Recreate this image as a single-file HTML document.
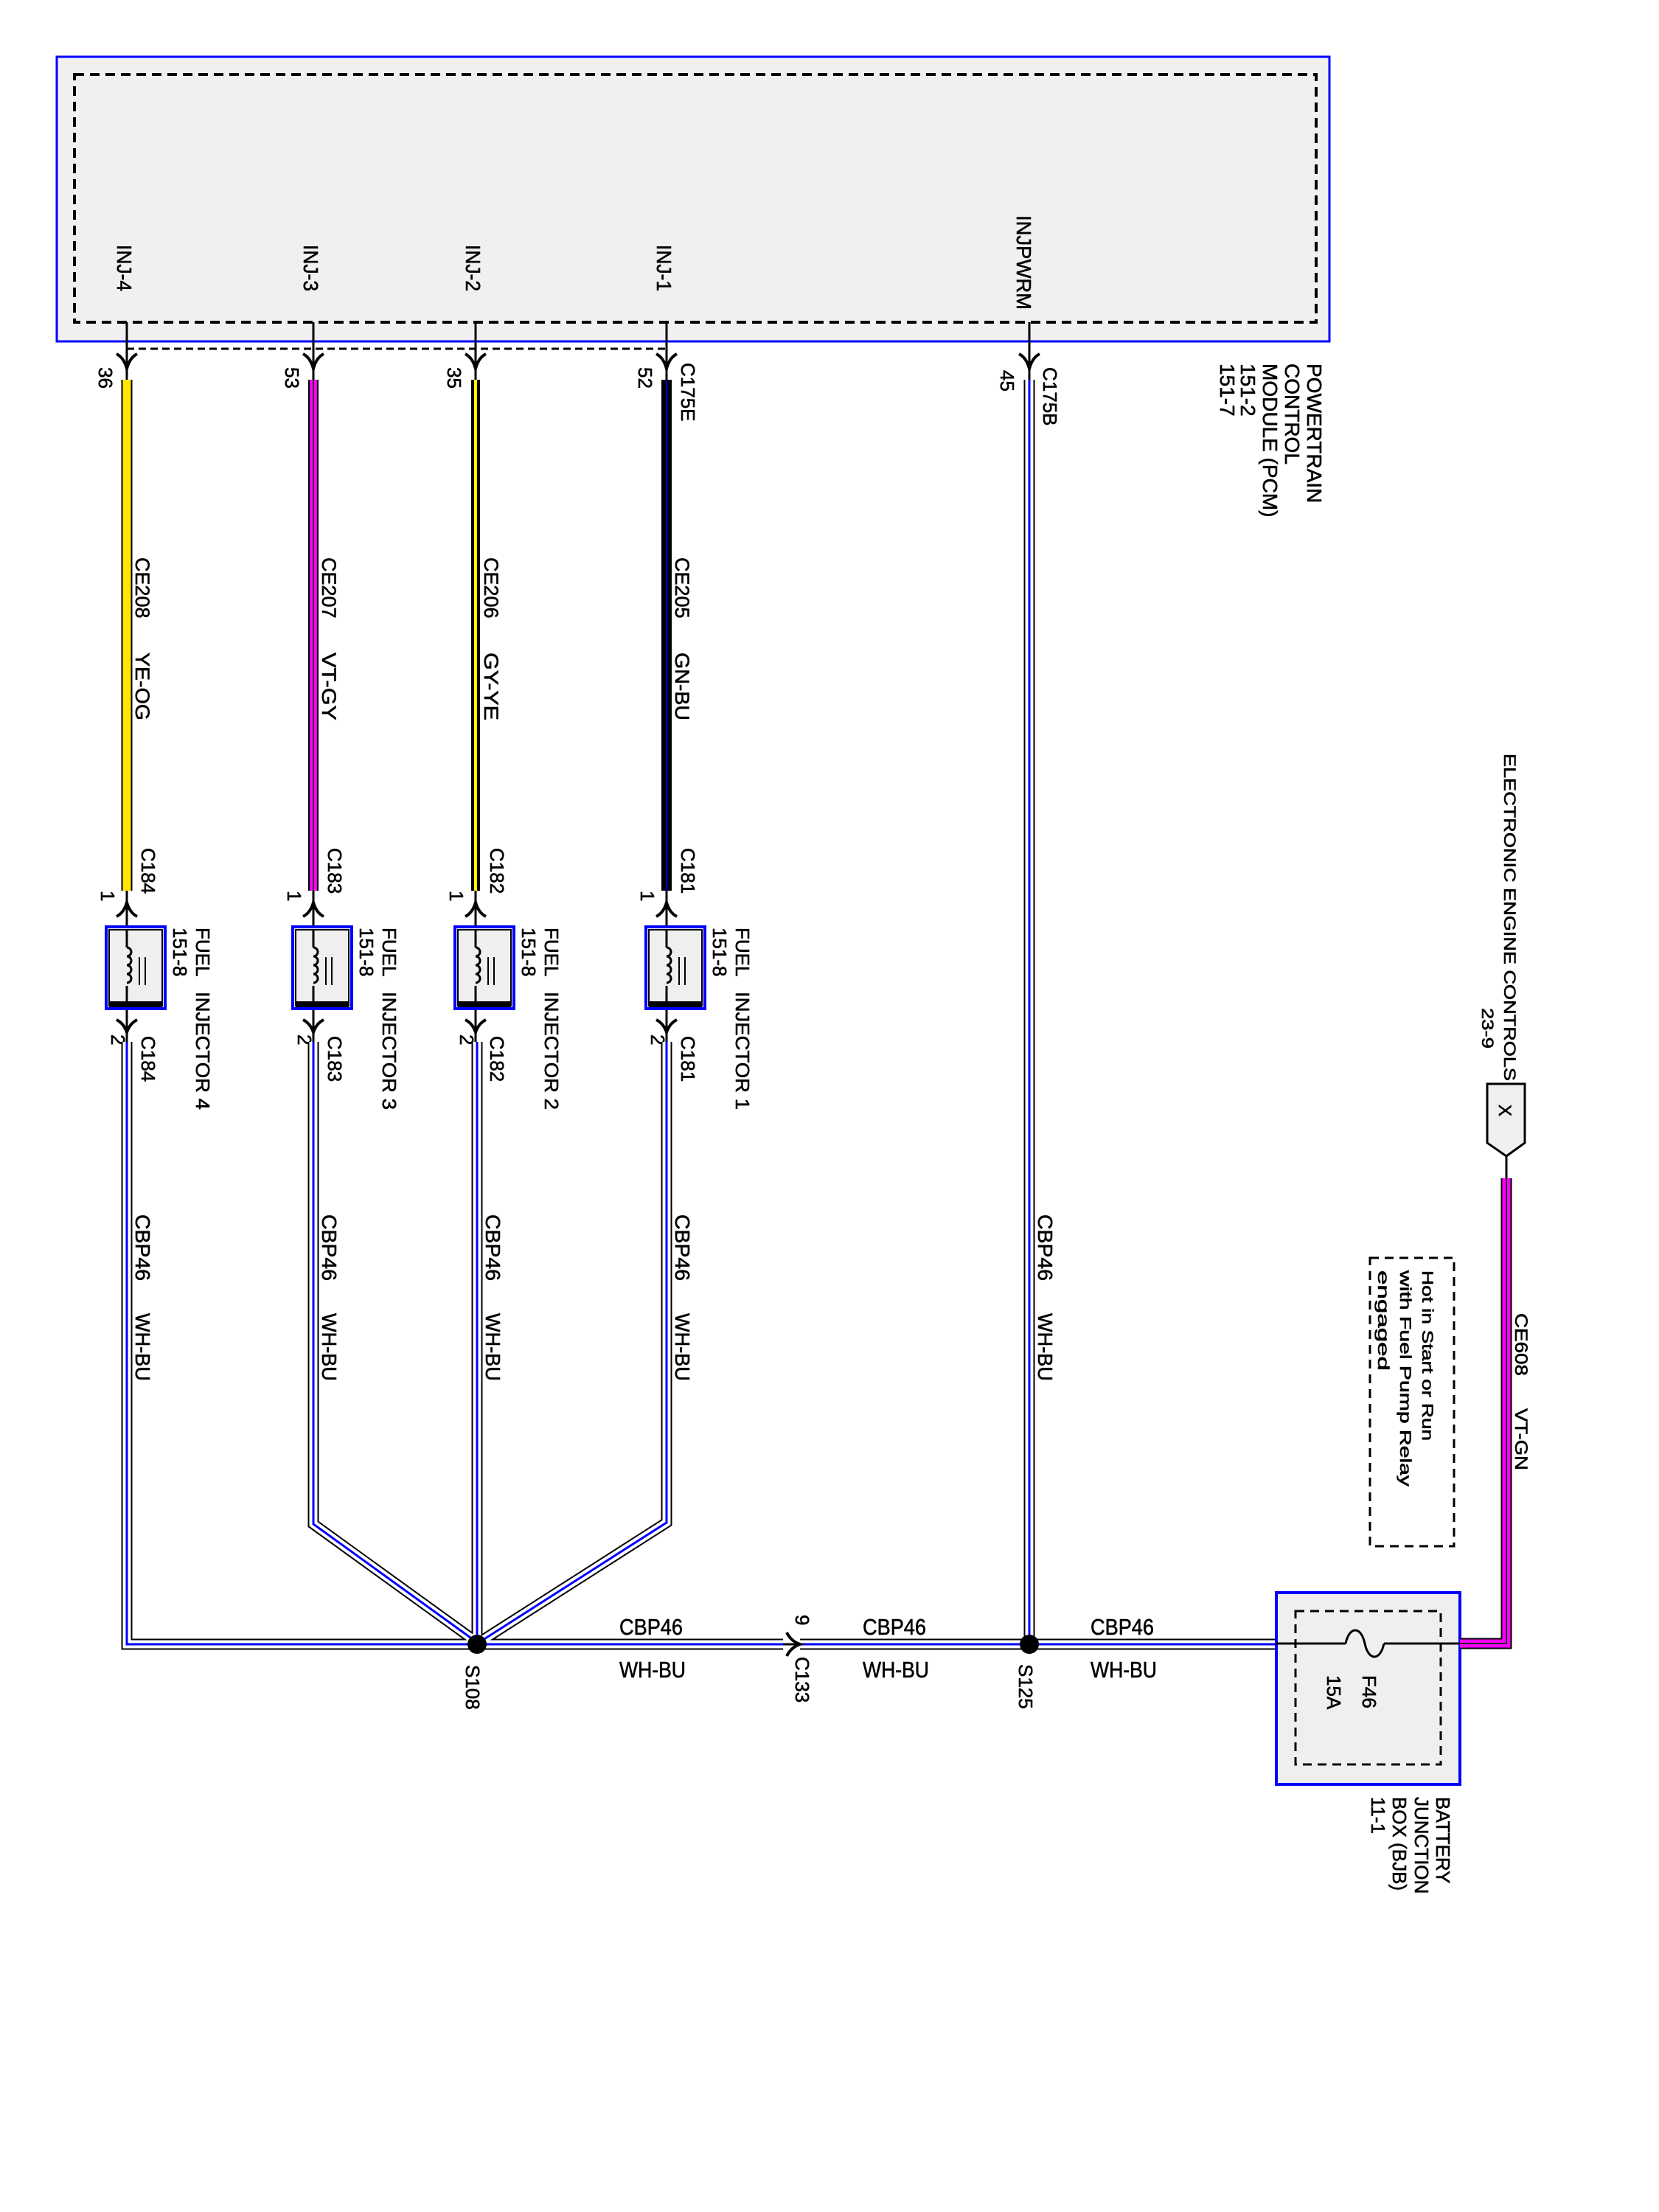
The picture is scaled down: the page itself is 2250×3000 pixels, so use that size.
<!DOCTYPE html>
<html><head><meta charset="utf-8"><style>
html,body{margin:0;padding:0;background:#fff}
svg{display:block}
text{font-family:"Liberation Sans",Arial,sans-serif;fill:#000;stroke:#000;stroke-width:0.6}
</style></head><body>
<svg width="2250" height="3000" viewBox="0 0 2250 3000" xmlns="http://www.w3.org/2000/svg">
<defs>
<g id="arrDown"><path d="M-14,480 Q-4,485 0,500 Q4,485 14,480" fill="none" stroke="#000" stroke-width="4"/></g>
</defs>
<!-- PCM -->
<rect x="77" y="77" width="1726" height="386" fill="#f0f0f0" stroke="#0000ff" stroke-width="3"/>
<rect x="101" y="101" width="1684" height="336" fill="none" stroke="#000" stroke-width="4" stroke-dasharray="13,8"/>
<line x1="172" y1="473" x2="904" y2="473" stroke="#000" stroke-width="3" stroke-dasharray="10,6"/>

<g font-size="28">
<text transform="translate(159,332) rotate(90)" textLength="63" lengthAdjust="spacingAndGlyphs">INJ-4</text>
<text transform="translate(412,332) rotate(90)" textLength="63" lengthAdjust="spacingAndGlyphs">INJ-3</text>
<text transform="translate(632,332) rotate(90)" textLength="63" lengthAdjust="spacingAndGlyphs">INJ-2</text>
<text transform="translate(891,332) rotate(90)" textLength="63" lengthAdjust="spacingAndGlyphs">INJ-1</text>
<text transform="translate(1379,292) rotate(90)" textLength="128" lengthAdjust="spacingAndGlyphs">INJPWRM</text>
</g>

<g font-size="28">
<text transform="translate(1773,493) rotate(90)">POWERTRAIN</text>
<text transform="translate(1743,493) rotate(90)">CONTROL</text>
<text transform="translate(1713,493) rotate(90)">MODULE (PCM)</text>
<text transform="translate(1683,493) rotate(90)">151-2</text>
<text transform="translate(1655,493) rotate(90)">151-7</text>
</g>

<g stroke="#000" stroke-width="3">
<line x1="172" y1="437" x2="172" y2="515"/>
<line x1="425" y1="437" x2="425" y2="515"/>
<line x1="645" y1="437" x2="645" y2="515"/>
<line x1="904" y1="437" x2="904" y2="515"/>
<line x1="1396" y1="437" x2="1396" y2="515"/>
</g>
<use href="#arrDown" x="172"/><use href="#arrDown" x="425"/><use href="#arrDown" x="645"/><use href="#arrDown" x="904"/><use href="#arrDown" x="1396"/>

<line x1="172" y1="515" x2="172" y2="1208" stroke="#000" stroke-width="15"/>
<line x1="172" y1="515" x2="172" y2="1208" stroke="#ffe600" stroke-width="11"/>
<line x1="425" y1="515" x2="425" y2="1208" stroke="#000" stroke-width="14"/>
<line x1="425" y1="515" x2="425" y2="1208" stroke="#ff00ff" stroke-width="10"/>
<line x1="425" y1="515" x2="425" y2="1208" stroke="#333" stroke-width="2"/>
<line x1="645" y1="515" x2="645" y2="1208" stroke="#000" stroke-width="12"/>
<line x1="645" y1="515" x2="645" y2="1208" stroke="#ffff00" stroke-width="4"/>
<line x1="904" y1="515" x2="904" y2="1208" stroke="#000" stroke-width="14"/>
<line x1="904" y1="515" x2="904" y2="1208" stroke="#0000ff" stroke-width="2"/>

<g font-size="26">
<text transform="translate(134,498) rotate(90)">36</text>
<text transform="translate(387,498) rotate(90)">53</text>
<text transform="translate(607,498) rotate(90)">35</text>
<text transform="translate(866,498) rotate(90)">52</text>
<text transform="translate(1357,502) rotate(90)">45</text>
<text transform="translate(924,492) rotate(90)">C175E</text>
<text transform="translate(1415,498) rotate(90)">C175B</text>
</g>

<g font-size="27">
<text transform="translate(184,756) rotate(90)">CE208</text>
<text transform="translate(184,885) rotate(90)" textLength="92" lengthAdjust="spacingAndGlyphs">YE-OG</text>
<text transform="translate(437,756) rotate(90)">CE207</text>
<text transform="translate(437,885) rotate(90)" textLength="92" lengthAdjust="spacingAndGlyphs">VT-GY</text>
<text transform="translate(657,756) rotate(90)">CE206</text>
<text transform="translate(657,885) rotate(90)" textLength="92" lengthAdjust="spacingAndGlyphs">GY-YE</text>
<text transform="translate(916,756) rotate(90)">CE205</text>
<text transform="translate(916,885) rotate(90)" textLength="92" lengthAdjust="spacingAndGlyphs">GN-BU</text>
</g>

<!-- Injector 4 -->
<g transform="translate(172,0)">
<line x1="0" y1="1208" x2="0" y2="1413" stroke="#000" stroke-width="3"/>
<path d="M-14,1243 Q-4,1238 0,1224 Q4,1238 14,1243" fill="none" stroke="#000" stroke-width="4"/>
<rect x="-28" y="1257" width="80" height="111" fill="#efefef" stroke="#0000ff" stroke-width="4"/>
<rect x="-24" y="1261" width="72" height="103" fill="none" stroke="#000" stroke-width="2"/>
<rect x="-24" y="1358" width="72" height="8" fill="#000"/>
<line x1="0" y1="1261" x2="0" y2="1364" stroke="#000" stroke-width="3"/>
<rect x="-2" y="1285" width="4" height="52" fill="#efefef"/>
<path d="M0,1285 a6,6 0 0 1 0,12 a6,6 0 0 1 0,12 a6,6 0 0 1 0,12 a6,6 0 0 1 0,12" fill="none" stroke="#000" stroke-width="3"/>
<line x1="17" y1="1298" x2="17" y2="1336" stroke="#000" stroke-width="2"/>
<line x1="25" y1="1298" x2="25" y2="1336" stroke="#000" stroke-width="2"/>
<path d="M-14,1383 Q-4,1388 0,1400 Q4,1388 14,1383" fill="none" stroke="#000" stroke-width="4"/>
<g font-size="26">
<text transform="translate(20,1150) rotate(90)">C184</text>
<text transform="translate(-35,1208) rotate(90)">1</text>
<text transform="translate(-21,1403) rotate(90)">2</text>
<text transform="translate(20,1405) rotate(90)">C184</text>
<text transform="translate(94,1258) rotate(90)">FUEL</text>
<text transform="translate(94,1345) rotate(90)" textLength="160" lengthAdjust="spacingAndGlyphs">INJECTOR 4</text>
<text transform="translate(63,1258) rotate(90)">151-8</text>
</g>
</g>
<!-- Injector 3 -->
<g transform="translate(425,0)">
<line x1="0" y1="1208" x2="0" y2="1413" stroke="#000" stroke-width="3"/>
<path d="M-14,1243 Q-4,1238 0,1224 Q4,1238 14,1243" fill="none" stroke="#000" stroke-width="4"/>
<rect x="-28" y="1257" width="80" height="111" fill="#efefef" stroke="#0000ff" stroke-width="4"/>
<rect x="-24" y="1261" width="72" height="103" fill="none" stroke="#000" stroke-width="2"/>
<rect x="-24" y="1358" width="72" height="8" fill="#000"/>
<line x1="0" y1="1261" x2="0" y2="1364" stroke="#000" stroke-width="3"/>
<rect x="-2" y="1285" width="4" height="52" fill="#efefef"/>
<path d="M0,1285 a6,6 0 0 1 0,12 a6,6 0 0 1 0,12 a6,6 0 0 1 0,12 a6,6 0 0 1 0,12" fill="none" stroke="#000" stroke-width="3"/>
<line x1="17" y1="1298" x2="17" y2="1336" stroke="#000" stroke-width="2"/>
<line x1="25" y1="1298" x2="25" y2="1336" stroke="#000" stroke-width="2"/>
<path d="M-14,1383 Q-4,1388 0,1400 Q4,1388 14,1383" fill="none" stroke="#000" stroke-width="4"/>
<g font-size="26">
<text transform="translate(20,1150) rotate(90)">C183</text>
<text transform="translate(-35,1208) rotate(90)">1</text>
<text transform="translate(-21,1403) rotate(90)">2</text>
<text transform="translate(20,1405) rotate(90)">C183</text>
<text transform="translate(94,1258) rotate(90)">FUEL</text>
<text transform="translate(94,1345) rotate(90)" textLength="160" lengthAdjust="spacingAndGlyphs">INJECTOR 3</text>
<text transform="translate(63,1258) rotate(90)">151-8</text>
</g>
</g>
<!-- Injector 2 -->
<g transform="translate(645,0)">
<line x1="0" y1="1208" x2="0" y2="1413" stroke="#000" stroke-width="3"/>
<path d="M-14,1243 Q-4,1238 0,1224 Q4,1238 14,1243" fill="none" stroke="#000" stroke-width="4"/>
<rect x="-28" y="1257" width="80" height="111" fill="#efefef" stroke="#0000ff" stroke-width="4"/>
<rect x="-24" y="1261" width="72" height="103" fill="none" stroke="#000" stroke-width="2"/>
<rect x="-24" y="1358" width="72" height="8" fill="#000"/>
<line x1="0" y1="1261" x2="0" y2="1364" stroke="#000" stroke-width="3"/>
<rect x="-2" y="1285" width="4" height="52" fill="#efefef"/>
<path d="M0,1285 a6,6 0 0 1 0,12 a6,6 0 0 1 0,12 a6,6 0 0 1 0,12 a6,6 0 0 1 0,12" fill="none" stroke="#000" stroke-width="3"/>
<line x1="17" y1="1298" x2="17" y2="1336" stroke="#000" stroke-width="2"/>
<line x1="25" y1="1298" x2="25" y2="1336" stroke="#000" stroke-width="2"/>
<path d="M-14,1383 Q-4,1388 0,1400 Q4,1388 14,1383" fill="none" stroke="#000" stroke-width="4"/>
<g font-size="26">
<text transform="translate(20,1150) rotate(90)">C182</text>
<text transform="translate(-35,1208) rotate(90)">1</text>
<text transform="translate(-21,1403) rotate(90)">2</text>
<text transform="translate(20,1405) rotate(90)">C182</text>
<text transform="translate(94,1258) rotate(90)">FUEL</text>
<text transform="translate(94,1345) rotate(90)" textLength="160" lengthAdjust="spacingAndGlyphs">INJECTOR 2</text>
<text transform="translate(63,1258) rotate(90)">151-8</text>
</g>
</g>
<!-- Injector 1 -->
<g transform="translate(904,0)">
<line x1="0" y1="1208" x2="0" y2="1413" stroke="#000" stroke-width="3"/>
<path d="M-14,1243 Q-4,1238 0,1224 Q4,1238 14,1243" fill="none" stroke="#000" stroke-width="4"/>
<rect x="-28" y="1257" width="80" height="111" fill="#efefef" stroke="#0000ff" stroke-width="4"/>
<rect x="-24" y="1261" width="72" height="103" fill="none" stroke="#000" stroke-width="2"/>
<rect x="-24" y="1358" width="72" height="8" fill="#000"/>
<line x1="0" y1="1261" x2="0" y2="1364" stroke="#000" stroke-width="3"/>
<rect x="-2" y="1285" width="4" height="52" fill="#efefef"/>
<path d="M0,1285 a6,6 0 0 1 0,12 a6,6 0 0 1 0,12 a6,6 0 0 1 0,12 a6,6 0 0 1 0,12" fill="none" stroke="#000" stroke-width="3"/>
<line x1="17" y1="1298" x2="17" y2="1336" stroke="#000" stroke-width="2"/>
<line x1="25" y1="1298" x2="25" y2="1336" stroke="#000" stroke-width="2"/>
<path d="M-14,1383 Q-4,1388 0,1400 Q4,1388 14,1383" fill="none" stroke="#000" stroke-width="4"/>
<g font-size="26">
<text transform="translate(20,1150) rotate(90)">C181</text>
<text transform="translate(-35,1208) rotate(90)">1</text>
<text transform="translate(-21,1403) rotate(90)">2</text>
<text transform="translate(20,1405) rotate(90)">C181</text>
<text transform="translate(94,1258) rotate(90)">FUEL</text>
<text transform="translate(94,1345) rotate(90)" textLength="160" lengthAdjust="spacingAndGlyphs">INJECTOR 1</text>
<text transform="translate(63,1258) rotate(90)">151-8</text>
</g>
</g>

<!-- WH-BU buses -->
<g fill="none" stroke-linejoin="miter">
<g stroke="#000" stroke-width="15">
<path d="M172,1413 V2230 H640"/>
<path d="M425,1413 V2067 L645,2226"/>
<path d="M647,1413 V2225"/>
<path d="M904,1413 V2065 L652,2226"/>
<path d="M650,2230 H1062"/>
<path d="M1396,515 V2230"/>
<path d="M1085,2230 H1731"/>
</g>
<g stroke="#fff" stroke-width="11">
<path d="M172,1413 V2230 H640"/>
<path d="M425,1413 V2067 L645,2226"/>
<path d="M647,1413 V2225"/>
<path d="M904,1413 V2065 L652,2226"/>
<path d="M650,2230 H1062"/>
<path d="M1396,515 V2230"/>
<path d="M1085,2230 H1731"/>
</g>
<g stroke="#0000ff" stroke-width="3">
<path d="M172,1413 V2230 H640"/>
<path d="M425,1413 V2067 L645,2226"/>
<path d="M647,1413 V2225"/>
<path d="M904,1413 V2065 L652,2226"/>
<path d="M650,2230 H1062"/>
<path d="M1396,515 V2230"/>
<path d="M1085,2230 H1731"/>
</g>
</g>
<ellipse cx="647" cy="2230" rx="13" ry="13" fill="#000"/>
<ellipse cx="1396" cy="2230" rx="13" ry="13" fill="#000"/>
<line x1="1062" y1="2230" x2="1085" y2="2230" stroke="#000" stroke-width="3"/>
<path d="M1067,2214 Q1073,2226 1085,2230 Q1073,2234 1067,2246" fill="none" stroke="#000" stroke-width="4"/>

<g font-size="28">
<text transform="translate(184,1647) rotate(90)" textLength="90" lengthAdjust="spacingAndGlyphs">CBP46</text>
<text transform="translate(184,1781) rotate(90)" textLength="92" lengthAdjust="spacingAndGlyphs">WH-BU</text>
<text transform="translate(437,1647) rotate(90)" textLength="90" lengthAdjust="spacingAndGlyphs">CBP46</text>
<text transform="translate(437,1781) rotate(90)" textLength="92" lengthAdjust="spacingAndGlyphs">WH-BU</text>
<text transform="translate(659,1647) rotate(90)" textLength="90" lengthAdjust="spacingAndGlyphs">CBP46</text>
<text transform="translate(659,1781) rotate(90)" textLength="92" lengthAdjust="spacingAndGlyphs">WH-BU</text>
<text transform="translate(916,1647) rotate(90)" textLength="90" lengthAdjust="spacingAndGlyphs">CBP46</text>
<text transform="translate(916,1781) rotate(90)" textLength="92" lengthAdjust="spacingAndGlyphs">WH-BU</text>
<text transform="translate(1408,1647) rotate(90)" textLength="90" lengthAdjust="spacingAndGlyphs">CBP46</text>
<text transform="translate(1408,1781) rotate(90)" textLength="92" lengthAdjust="spacingAndGlyphs">WH-BU</text>
</g>
<g font-size="31">
<text x="840" y="2217" textLength="86" lengthAdjust="spacingAndGlyphs">CBP46</text>
<text x="840" y="2275" textLength="90" lengthAdjust="spacingAndGlyphs">WH-BU</text>
<text x="1170" y="2217" textLength="86" lengthAdjust="spacingAndGlyphs">CBP46</text>
<text x="1170" y="2275" textLength="90" lengthAdjust="spacingAndGlyphs">WH-BU</text>
<text x="1479" y="2217" textLength="86" lengthAdjust="spacingAndGlyphs">CBP46</text>
<text x="1479" y="2275" textLength="90" lengthAdjust="spacingAndGlyphs">WH-BU</text>
</g>
<g font-size="26">
<text transform="translate(632,2258) rotate(90)">S108</text>
<text transform="translate(1382,2257) rotate(90)">S125</text>
<text transform="translate(1079,2247) rotate(90)">C133</text>
<text transform="translate(1079,2190) rotate(90)">9</text>
</g>

<!-- BJB -->
<rect x="1731" y="2160" width="249" height="260" fill="#efefef" stroke="#0000ff" stroke-width="4"/>
<rect x="1757" y="2185" width="197" height="208" fill="none" stroke="#000" stroke-width="3" stroke-dasharray="12,8"/>
<line x1="1731" y1="2229" x2="1825" y2="2229" stroke="#000" stroke-width="3"/>
<line x1="1877" y1="2229" x2="1980" y2="2229" stroke="#000" stroke-width="3"/>
<path d="M1825,2229 C1830,2205 1846,2205 1851,2229 C1856,2253 1872,2253 1877,2229" fill="none" stroke="#000" stroke-width="3"/>
<g font-size="26">
<text transform="translate(1848,2272) rotate(90)">F46</text>
<text transform="translate(1800,2272) rotate(90)">15A</text>
<text transform="translate(1948,2437) rotate(90)">BATTERY</text>
<text transform="translate(1919,2437) rotate(90)">JUNCTION</text>
<text transform="translate(1889,2437) rotate(90)">BOX (BJB)</text>
<text transform="translate(1860,2437) rotate(90)">11-1</text>
</g>

<path d="M1980,2229 H2043 V1598" fill="none" stroke="#000" stroke-width="15"/>
<path d="M1980,2229 H2043 V1598" fill="none" stroke="#ff00ff" stroke-width="11"/>
<path d="M1980,2229 H2043 V1598" fill="none" stroke="#222" stroke-width="2"/>
<line x1="2043" y1="1565" x2="2043" y2="1598" stroke="#000" stroke-width="3"/>
<polygon points="2017,1470 2068,1470 2068,1550 2043,1568 2017,1550" fill="#efefef" stroke="#000" stroke-width="3"/>
<text transform="translate(2033,1498) rotate(90)" font-size="24">X</text>
<text transform="translate(2040,1022) rotate(90)" font-size="22" textLength="444" lengthAdjust="spacingAndGlyphs">ELECTRONIC ENGINE CONTROLS</text>
<text transform="translate(2010,1367) rotate(90)" font-size="22" textLength="55" lengthAdjust="spacingAndGlyphs">23-9</text>
<text transform="translate(2055,1781) rotate(90)" font-size="24" textLength="85" lengthAdjust="spacingAndGlyphs">CE608</text>
<text transform="translate(2055,1910) rotate(90)" font-size="24" textLength="84" lengthAdjust="spacingAndGlyphs">VT-GN</text>

<rect x="1858" y="1706" width="114" height="391" fill="none" stroke="#000" stroke-width="3" stroke-dasharray="12,8"/>
<g font-size="21">
<text transform="translate(1929,1723) rotate(90)" textLength="231" lengthAdjust="spacingAndGlyphs">Hot in Start or Run</text>
<text transform="translate(1899,1723) rotate(90)" textLength="293" lengthAdjust="spacingAndGlyphs">with Fuel Pump Relay</text>
<text transform="translate(1869,1723) rotate(90)" textLength="136" lengthAdjust="spacingAndGlyphs">engaged</text>
</g>
</svg>
</body></html>
